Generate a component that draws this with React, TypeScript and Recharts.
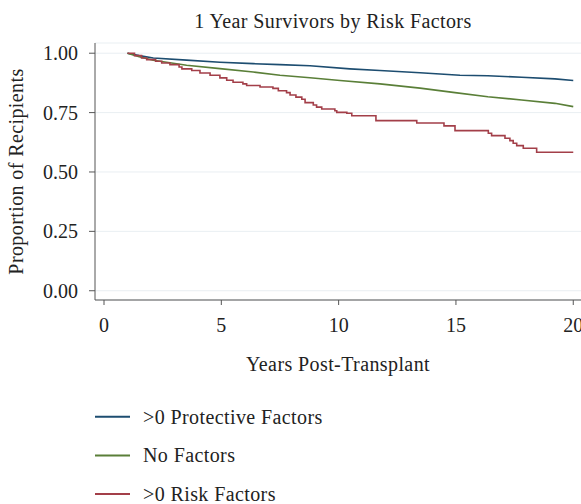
import React from "react";
import { LineChart, Line, XAxis, YAxis, CartesianGrid, Label } from "recharts";

// ---- Data ----
const protectiveYears = [1, 1.5, 2.1, 3.52, 4.94, 6.36, 7.5, 8.78, 10.48, 11.76, 13.47, 15.17, 16.36, 17.8, 19.22, 20];
const protectiveSurv = [1.0, 0.99, 0.98, 0.971, 0.962, 0.956, 0.952, 0.947, 0.934, 0.927, 0.918, 0.907, 0.905, 0.899, 0.892, 0.885];

const noFactorYears = [1, 1.5, 2.1, 3.52, 4.94, 6.36, 7.5, 8.78, 10.06, 11.76, 13.47, 14.96, 16.36, 17.8, 19.22, 20];
const noFactorSurv = [1.0, 0.985, 0.97, 0.949, 0.935, 0.921, 0.907, 0.897, 0.885, 0.871, 0.853, 0.834, 0.817, 0.803, 0.789, 0.775];

const riskYears = [1, 1.3, 1.6, 1.82, 2.2, 2.46, 2.81, 3.2, 3.32, 3.74, 4.09, 4.52, 4.94, 5.23, 5.5, 5.92, 6.08, 6.65, 7.2, 7.43, 7.78, 7.93, 8.18, 8.43, 8.57, 8.92, 9.06, 9.28, 9.84, 9.92, 10.35, 10.56, 11.59, 13.33, 14.49, 14.96, 16.38, 16.52, 17.09, 17.3, 17.44, 17.59, 17.87, 18.44, 20];
const riskSurv = [1.0, 0.99, 0.98, 0.973, 0.966, 0.959, 0.952, 0.942, 0.934, 0.927, 0.917, 0.907, 0.896, 0.886, 0.878, 0.871, 0.864, 0.858, 0.852, 0.842, 0.834, 0.824, 0.815, 0.806, 0.792, 0.782, 0.773, 0.765, 0.758, 0.751, 0.747, 0.737, 0.716, 0.706, 0.694, 0.674, 0.663, 0.653, 0.642, 0.632, 0.621, 0.611, 0.6, 0.583, 0.583];

const seriesNames = [">0 Protective Factors", "No Factors", ">0 Risk Factors"];
const seriesColors = ["#1d4d70", "#5a7f38", "#a33f49"];

const xTicks = [0, 5, 10, 15, 20];
const yTicks = [0, 0.25, 0.5, 0.75, 1];

const title = "1 Year Survivors by Risk Factors";
const xLabel = "Years Post-Transplant";
const yLabel = "Proportion of Recipients";

const toPoints = (xs: number[], ys: number[]) => xs.map((t, i) => ({ t, v: ys[i] }));

const protectiveData = toPoints(protectiveYears, protectiveSurv);
const noFactorData = toPoints(noFactorYears, noFactorSurv);
const riskData = toPoints(riskYears, riskSurv);

const FONT = '"Liberation Serif", "Times New Roman", serif';
const FS = 20;
const LS = 0.4;
const TEXT = "#222";
const AXIS = "#555";

export default function App() {
  return (
    <div
      style={{
        position: "absolute",
        left: 0,
        top: 0,
        width: 581,
        height: 504,
        overflow: "hidden",
        background: "#fff",
        fontFamily: FONT,
      }}
    >
      <LineChart width={600} height={504} margin={{ top: 43, right: 0, bottom: 0, left: 0 }}>
        <CartesianGrid horizontal vertical={false} stroke="#e9eff2" strokeWidth={1} />
        <XAxis
          type="number"
          dataKey="t"
          domain={[-0.384, 21.14]}
          ticks={xTicks}
          interval={0}
          allowDataOverflow
          height={204}
          tickSize={5}
          tickMargin={13}
          stroke={AXIS}
          tick={{ fill: TEXT, fontSize: FS, fontFamily: FONT }}
        >
          <Label
            content={() => (
              <text x={338} y={371} textAnchor="middle" fill={TEXT} fontSize={FS} fontFamily={FONT} letterSpacing={LS}>
                {xLabel}
              </text>
            )}
          />
        </XAxis>
        <YAxis
          type="number"
          domain={[-0.039, 1.043]}
          ticks={yTicks}
          interval={0}
          allowDataOverflow
          width={95}
          tickSize={6}
          tickMargin={11}
          stroke={AXIS}
          tickFormatter={(v: number) => v.toFixed(2)}
          tick={{ fill: TEXT, fontSize: FS, fontFamily: FONT }}
        >
          <Label
            content={() => (
              <text
                x={16}
                y={171.5}
                textAnchor="middle"
                dominantBaseline="central"
                transform="rotate(-90 16 171.5)"
                fill={TEXT}
                fontSize={FS}
                fontFamily={FONT}
                letterSpacing={LS}
              >
                {yLabel}
              </text>
            )}
          />
        </YAxis>
        <Line
          data={protectiveData}
          dataKey="v"
          name={seriesNames[0]}
          type="linear"
          stroke={seriesColors[0]}
          strokeWidth={1.6}
          dot={false}
          isAnimationActive={false}
        />
        <Line
          data={noFactorData}
          dataKey="v"
          name={seriesNames[1]}
          type="linear"
          stroke={seriesColors[1]}
          strokeWidth={1.6}
          dot={false}
          isAnimationActive={false}
        />
        <Line
          data={riskData}
          dataKey="v"
          name={seriesNames[2]}
          type="stepAfter"
          stroke={seriesColors[2]}
          strokeWidth={1.6}
          dot={false}
          isAnimationActive={false}
        />
      </LineChart>
      <svg
        width={581}
        height={504}
        style={{ position: "absolute", left: 0, top: 0, pointerEvents: "none" }}
      >
        <text x={333} y={28} textAnchor="middle" fill={TEXT} fontSize={FS} fontFamily={FONT} letterSpacing={LS}>
          {title}
        </text>
        {seriesNames.map((name, i) => {
          const y = 416.7 + i * 38.7;
          return (
            <g key={name}>
              <line x1={95} x2={130} y1={y} y2={y} stroke={seriesColors[i]} strokeWidth={2} />
              <text x={143} y={y + 6.8} fill={TEXT} fontSize={FS} fontFamily={FONT} letterSpacing={LS}>
                {name}
              </text>
            </g>
          );
        })}
      </svg>
    </div>
  );
}
